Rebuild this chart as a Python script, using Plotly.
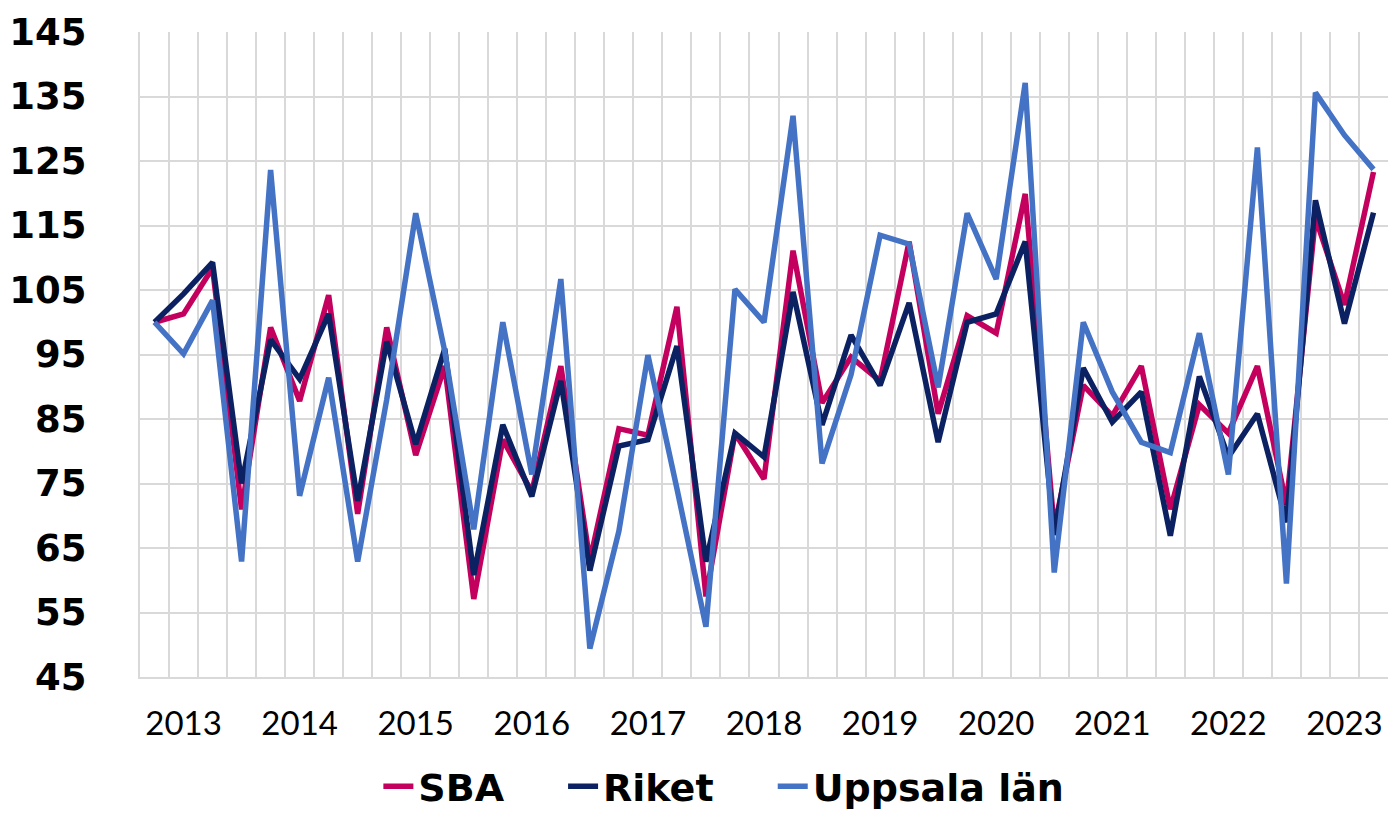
import plotly.graph_objects as go

years = ["2013", "2014", "2015", "2016", "2017", "2018", "2019", "2020", "2021", "2022", "2023"]

sba = [100, 101.3, 108.4, 71.0, 99.2, 87.8, 104.2, 70.3, 99.2, 79.4,
       93.2, 57.1, 81.8, 73.7, 93.2, 63.0, 83.5, 82.5, 102.4, 57.5,
       82.8, 75.7, 111.1, 87.5, 94.6, 90.9, 112.5, 85.8, 101.0, 98.3,
       119.9, 68.0, 90.2, 85.5, 93.2, 71.0, 87.2, 82.8, 93.2, 71.7,
       116.2, 102.7, 123.3]
riket = [100, 104.4, 109.3, 75.0, 97.3, 91.2, 101.3, 72.3, 97.0, 81.1,
         95.9, 60.8, 84.1, 73.0, 90.9, 61.5, 80.8, 81.8, 96.3, 62.9,
         82.8, 79.1, 104.7, 84.1, 98.0, 90.2, 103.0, 81.4, 100.0, 101.3,
         112.5, 67.0, 92.9, 84.5, 89.2, 66.9, 91.6, 79.1, 85.8, 69.0,
         118.9, 99.8, 117.0]
uppsala = [100, 95.1, 103.4, 62.9, 123.6, 73.1, 91.4, 62.9, 88.0, 116.9,
           95.5, 67.9, 100.0, 76.4, 106.7, 49.4, 67.6, 94.9, 74.2, 52.8,
           105.1, 100.0, 132.0, 78.1, 91.9, 113.5, 112.1, 89.9, 116.9, 106.7,
           137.1, 61.2, 100.0, 89.2, 81.4, 79.8, 98.3, 76.4, 127.1, 59.5,
           135.6, 129.0, 123.7]

n = len(sba)
xs = list(range(n))

series = [("SBA", sba, "#C4005E", "legend"),
          ("Riket", riket, "#0B2161", "legend2"),
          ("Uppsala län", uppsala, "#4472C4", "legend3")]

fig = go.Figure()
for name, vals, col, lg in series:
    fig.add_trace(go.Scatter(x=xs, y=vals, mode="lines", name=name, legend=lg,
                             line=dict(color=col, width=5.5)))

grid = "#D9D9D9"
legfont = dict(family="DejaVu Sans", size=38, color="black", weight="bold")


def leg(x):
    return dict(orientation="h", x=x, xanchor="left", y=-0.17, yanchor="middle",
                font=legfont, itemwidth=30, bgcolor="rgba(0,0,0,0)")


fig.update_layout(
    width=1388, height=816,
    margin=dict(l=140, r=0, t=32, b=139, autoexpand=False),
    plot_bgcolor="white", paper_bgcolor="white",
    showlegend=True,
    legend=leg(0.191),
    legend2=leg(0.339),
    legend3=leg(0.507),
    xaxis=dict(range=[-0.5, n - 0.5], tickmode="array",
               tickvals=[1 + 4 * j for j in range(len(years))], ticktext=years,
               showgrid=False,
               minor=dict(tickmode="linear", tick0=0.5, dtick=1, showgrid=True, gridcolor=grid, gridwidth=2),
               showline=True, linecolor=grid, linewidth=2,
               ticks="", ticklabelstandoff=16, automargin=False,
               tickfont=dict(family="Lato", size=33, color="black"),
               zeroline=False),
    yaxis=dict(range=[45, 145], tickmode="linear", tick0=45, dtick=10,
               showgrid=True, gridcolor=grid, gridwidth=2,
               showline=True, linecolor=grid, linewidth=2,
               ticks="", ticklabelstandoff=44, automargin=False,
               tickfont=dict(family="DejaVu Sans", size=37, color="black", weight="bold"),
               zeroline=False),
)

fig.write_html("out.html", config={"displayModeBar": False},
               post_script="document.body.style.margin='0';document.body.style.overflow='hidden';")
